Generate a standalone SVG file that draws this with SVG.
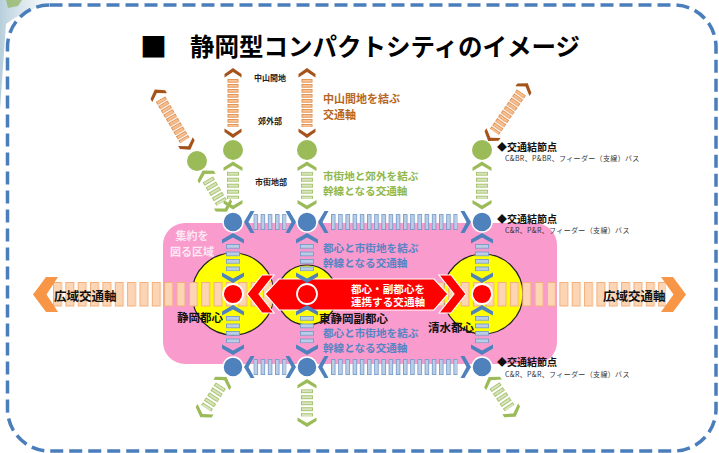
<svg xmlns="http://www.w3.org/2000/svg" width="719" height="453" viewBox="0 0 719 453">
<style>
 text{font-family:"Noto Sans CJK JP","Noto Sans CJK SC",sans-serif;}
 .title{font-size:24.5px;font-weight:700;fill:#000;}
 .brown{fill:#b8661e;font-size:11px;font-weight:700;}
 .green{fill:#8fb84e;font-size:10.6px;font-weight:700;}
 .blue{fill:#5585c5;font-size:10.6px;font-weight:700;}
 .blk{fill:#111;font-size:11.5px;font-weight:700;}
 .sm{fill:#222;font-size:8px;font-weight:700;}
 .node{fill:#111;font-size:10px;font-weight:700;}
 .sub{fill:#333;font-size:7px;letter-spacing:0.35px;}
 .wide{fill:#111;font-size:12.5px;font-weight:700;}
 .wt{fill:#fff;font-size:10.6px;font-weight:700;}
 .pk{fill:#fde8f2;font-size:11px;font-weight:700;}
 .cB{fill:#4f81bd;}
 .cG{fill:#9bbb59;}
 .cO{fill:#a5531b;}
 .circB{fill:#4f81bd;stroke:#fff;stroke-width:1.5;}
 .circR{fill:#ff0000;stroke:#fff;stroke-width:1.8;}
 .circG{fill:#9bbb59;}
 .yel{fill:#ffff00;stroke:#222;stroke-width:1.2;}
 .redA{fill:#ff0000;stroke:#fff;stroke-width:1.2;stroke-linejoin:miter;}
 .orA{fill:#f79646;}
</style>
<defs>
 <polygon id="chB" class="cB" points="0,0 11,6.5 11,10.5 0,4.5 -11,10.5 -11,6.5"/>
 <polygon id="chG" class="cG" points="0,0 9.5,6 9.5,9.5 0,4 -9.5,9.5 -9.5,6"/>
 <polygon id="chO" class="cO" points="0,0 8.5,6 8.5,9.5 0,4 -8.5,9.5 -8.5,6"/>
 <pattern id="pW" patternUnits="userSpaceOnUse" x="53" y="282" width="12.35" height="25">
  <rect x="0.5" y="0.5" width="8" height="23.5" fill="#fcd5b4" stroke="#f4b07c" stroke-width="1"/>
 </pattern>
 <pattern id="pBV" patternUnits="userSpaceOnUse" x="-7" y="11" width="14" height="7.5">
  <rect x="0.5" y="0.4" width="13" height="4" fill="#b9cde5" stroke="#6f96c9" stroke-width="0.8"/>
 </pattern>
 <pattern id="pBHs" patternUnits="userSpaceOnUse" x="-8" y="9.4" width="16" height="7.2">
  <rect x="0.5" y="0.4" width="15" height="3.8" fill="#b9cde5" stroke="#6f96c9" stroke-width="0.8"/>
 </pattern>
 <pattern id="pBHl" patternUnits="userSpaceOnUse" x="-8" y="13" width="16" height="7.2">
  <rect x="0.5" y="0.4" width="15" height="3.8" fill="#b9cde5" stroke="#6f96c9" stroke-width="0.8"/>
 </pattern>
 <pattern id="pG" patternUnits="userSpaceOnUse" x="-6" y="10.2" width="12" height="6">
  <rect x="0.5" y="0.4" width="11" height="3.2" fill="#d7e4bd" stroke="#9bbb59" stroke-width="0.8"/>
 </pattern>
 <pattern id="pO" patternUnits="userSpaceOnUse" x="-5.5" y="11" width="11" height="5">
  <rect x="0.5" y="0.4" width="10" height="2.8" fill="#fbc598" stroke="#d9843f" stroke-width="0.8"/>
 </pattern>
 <g id="ladBV">
  <use href="#chB"/>
  <rect x="-7" y="11" width="14" height="27.3" fill="url(#pBV)"/>
  <use href="#chB" transform="translate(0,50) scale(1,-1)"/>
 </g>
 <g id="ladBHs">
  <use href="#chB"/>
  <rect x="-8" y="9.4" width="16" height="33" fill="url(#pBHs)"/>
  <use href="#chB" transform="translate(0,52) scale(1,-1)"/>
 </g>
 <g id="ladBHl">
  <use href="#chB"/>
  <rect x="-8" y="13" width="16" height="126.5" fill="url(#pBHl)"/>
  <use href="#chB" transform="translate(0,153) scale(1,-1)"/>
 </g>
 <g id="ladG">
  <use href="#chG"/>
  <rect x="-6" y="10.2" width="12" height="27.2" fill="url(#pG)"/>
  <use href="#chG" transform="translate(0,48) scale(1,-1)"/>
 </g>
 <g id="ladO">
  <use href="#chO"/>
  <rect x="-5.5" y="11" width="11" height="48" fill="url(#pO)"/>
  <use href="#chO" transform="translate(0,70) scale(1,-1)"/>
 </g>
 <linearGradient id="bgTL" x1="0" y1="0" x2="1" y2="0">
  <stop offset="0" stop-color="#b7cfdc"/>
  <stop offset="1" stop-color="#e8f0f4" stop-opacity="0"/>
 </linearGradient>
</defs>

<rect x="0" y="0" width="719" height="453" fill="#fff"/>
<path d="M0,0 H66 Q30,6 6,24 L0,110 Z" fill="url(#bgTL)"/>
<path d="M6,0 L22,0 L18,6 L8,8 Z" fill="#8fb35a" opacity="0.7"/>

<rect id="frame" x="7.5" y="5" width="708.5" height="446" rx="42" fill="none" stroke="#4a7ebb" stroke-width="3.5" stroke-dasharray="13 6"/>

<g id="title">
 <text x="140" y="57" class="title" style="font-size:27px">■</text>
 <text x="190" y="56" class="title">静岡型コンパクトシティのイメージ</text>
</g>

<g id="zone">
 <rect x="163" y="223" width="394" height="141" rx="22" fill="#f99bcd"/>
 <text x="192" y="239.5" class="pk" text-anchor="middle">集約を</text>
 <text x="192" y="256" class="pk" text-anchor="middle">図る区域</text>
</g>

<g id="core-areas">
 <circle class="yel" cx="233" cy="294" r="41"/>
 <circle class="yel" cx="307" cy="295" r="30"/>
 <circle class="yel" cx="483" cy="294" r="40"/>
</g>

<g id="connectors">
 <g id="wide-axis">
  <rect x="53" y="282" width="613" height="25" fill="url(#pW)"/>
  <polygon class="orA" points="33,294.5 46,277 58,277 46.5,294.5 58,312 46,312"/>
  <polygon class="orA" points="661,277 673,277 686,294.5 673,312 661,312 673.5,294.5"/>
 </g>
 <g id="red-axis">
  <polygon class="redA" points="265,294 279,279 434,279 448,294 434,310 279,310"/>
  <polygon class="redA" points="247,294 262,275 274,275 259,294 274,313 262,313"/>
  <polygon class="redA" points="466,294 451,275 439,275 454,294 439,313 451,313"/>
 </g>
 <g id="blue-axes">
  <use href="#ladBV" transform="translate(233,233)"/>
  <use href="#ladBV" transform="translate(307,233)"/>
  <use href="#ladBV" transform="translate(482,233)"/>
  <use href="#ladBV" transform="translate(233,305)"/>
  <use href="#ladBV" transform="translate(307,305)"/>
  <use href="#ladBV" transform="translate(482,305)"/>
  <use href="#ladBHs" transform="translate(244,222) rotate(-90)"/>
  <use href="#ladBHl" transform="translate(318,222) rotate(-90)"/>
  <use href="#ladBHs" transform="translate(244,367) rotate(-90)"/>
  <use href="#ladBHl" transform="translate(318,367) rotate(-90)"/>
 </g>
 <g id="green-axes">
  <use href="#ladG" transform="translate(233,161.5)"/>
  <use href="#ladG" transform="translate(307,161.5)"/>
  <use href="#ladG" transform="translate(482,161.5)"/>
  <use href="#ladG" transform="translate(202.6,170.5) rotate(-30.5)"/>
  <use href="#ladG" transform="translate(307,379)"/>
  <use href="#ladG" transform="translate(226.5,377) rotate(33)"/>
  <use href="#ladG" transform="translate(488.7,377) rotate(-34)"/>
 </g>
 <g id="orange-axes">
  <use href="#ladO" transform="translate(233,68)"/>
  <use href="#ladO" transform="translate(307,68)"/>
  <use href="#ladO" transform="translate(154.8,89.5) rotate(-30.5)"/>
  <use href="#ladO" transform="translate(527.8,83.3) rotate(34.5)"/>
 </g>
</g>

<g id="node-shizuoka">
 <circle class="circR" cx="233" cy="294" r="10"/>
 <text x="177" y="321.5" class="blk">静岡都心</text>
</g>
<g id="node-higashishizuoka">
 <circle class="circR" cx="307" cy="294" r="10"/>
 <text x="319" y="322.5" class="blk">東静岡副都心</text>
</g>
<g id="node-shimizu">
 <circle class="circR" cx="482" cy="294" r="10"/>
 <text x="428" y="331.5" class="blk">清水都心</text>
</g>

<g id="hub-top-1"><circle class="circB" cx="233" cy="222" r="10"/></g>
<g id="hub-top-2"><circle class="circB" cx="307" cy="222" r="10"/></g>
<g id="hub-top-3">
 <circle class="circB" cx="482" cy="222" r="10"/>
 <text x="497" y="222.5" class="node">◆交通結節点</text>
 <text x="505" y="232.5" class="sub">C&amp;R、P&amp;R、フィーダー（支線）バス</text>
</g>
<g id="hub-bot-1"><circle class="circB" cx="233" cy="367" r="10"/></g>
<g id="hub-bot-2"><circle class="circB" cx="307" cy="367" r="10"/></g>
<g id="hub-bot-3">
 <circle class="circB" cx="482" cy="367" r="10"/>
 <text x="497" y="366" class="node">◆交通結節点</text>
 <text x="505" y="377" class="sub">C&amp;R、P&amp;R、フィーダー（支線）バス</text>
</g>

<g id="green-1"><circle class="circG" cx="233" cy="150" r="10"/></g>
<g id="green-2"><circle class="circG" cx="307" cy="150" r="10"/></g>
<g id="green-3">
 <circle class="circG" cx="482" cy="150" r="10"/>
 <text x="497" y="150.5" class="node">◆交通結節点</text>
 <text x="505" y="161" class="sub">C&amp;BR、P&amp;BR、フィーダー（支線）バス</text>
</g>
<g id="green-4"><circle class="circG" cx="197" cy="161" r="10"/></g>

<g id="labels">
 <text x="270" y="81" class="sm" text-anchor="middle">中山間地</text>
 <text x="270" y="123.5" class="sm" text-anchor="middle">郊外部</text>
 <text x="271" y="184.5" class="sm" text-anchor="middle">市街地部</text>
 <text x="323" y="102.5" class="brown">中山間地を結ぶ</text>
 <text x="323" y="119" class="brown">交通軸</text>
 <text x="323" y="179.5" class="green">市街地と郊外を結ぶ</text>
 <text x="323" y="194.5" class="green">幹線となる交通軸</text>
 <text x="323" y="252" class="blue">都心と市街地を結ぶ</text>
 <text x="323" y="267" class="blue">幹線となる交通軸</text>
 <text x="323" y="336.5" class="blue">都心と市街地を結ぶ</text>
 <text x="323" y="351.5" class="blue">幹線となる交通軸</text>
 <text x="54" y="300.5" class="wide">広域交通軸</text>
 <text x="603" y="300.5" class="wide">広域交通軸</text>
 <text x="388" y="292.5" class="wt" text-anchor="middle">都心・副都心を</text>
 <text x="388" y="306" class="wt" text-anchor="middle">連携する交通軸</text>
</g>
</svg>
